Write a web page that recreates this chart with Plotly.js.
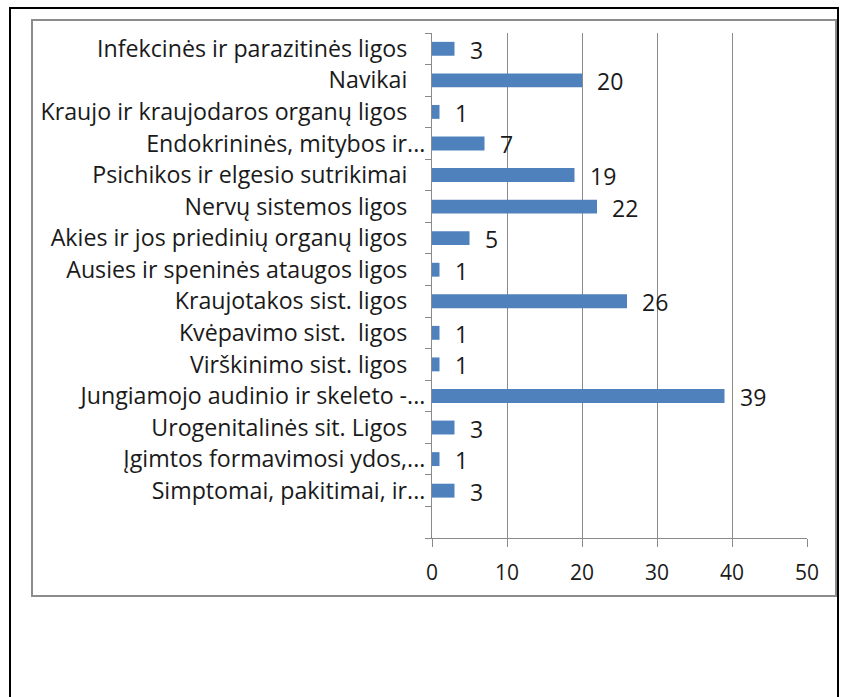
<!DOCTYPE html>
<html>
<head>
<meta charset="utf-8">
<script src="https://cdn.plot.ly/plotly-3.0.1.min.js"></script>
<style>html,body{margin:0;padding:0;background:#fff;}#chart{width:844px;height:697px;}</style>
</head>
<body>
<div id="chart"></div>
<script>
const categories = [
  "Infekcinės ir parazitinės ligos",
  "Navikai",
  "Kraujo ir kraujodaros organų ligos",
  "Endokrininės, mitybos ir...",
  "Psichikos ir elgesio sutrikimai",
  "Nervų sistemos ligos",
  "Akies ir jos priedinių organų ligos",
  "Ausies ir speninės ataugos ligos",
  "Kraujotakos sist. ligos",
  "Kvėpavimo sist.  ligos",
  "Virškinimo sist. ligos",
  "Jungiamojo audinio ir skeleto -...",
  "Urogenitalinės sit. Ligos",
  "Įgimtos formavimosi ydos,...",
  "Simptomai, pakitimai, ir..."
];
const values = [3, 20, 1, 7, 19, 22, 5, 1, 26, 1, 1, 39, 3, 1, 3];
const xTicks = [0, 10, 20, 30, 40, 50];

const positions = categories.map((c, i) => i);
const labelFont = "'Open Sans', 'Noto Sans', sans-serif";
// truncated labels let their ellipsis run past the common right edge
const tickText = categories.map(c => c.endsWith('...') ? c : c + '\u00a0\u00a0\u00a0');

const trace = {
  type: 'bar',
  orientation: 'h',
  x: values,
  y: positions,
  marker: {color: '#4f81bd'},
  width: 0.44,
  hoverinfo: 'x+text',
  text: categories,
  textposition: 'none'
};

const annotations = values.map((v, i) => ({
  x: v, y: i, xref: 'x', yref: 'y',
  text: String(v), showarrow: false,
  xanchor: 'left', xshift: 13, yshift: -1,
  font: {family: labelFont, size: 23, color: '#1a1a1a'}
}));

// pixel helpers for frame lines (plot area: x 432..807, y 33..538)
const L = 432, R = 807, T = 33, B = 538;
const px = p => (p - L) / (R - L);
const py = p => (B - p) / (B - T);

const shapes = [
  {type: 'rect', xref: 'paper', yref: 'paper', x0: px(32), x1: px(836), y0: py(596), y1: py(20),
   line: {color: '#8c8c8c', width: 2}, fillcolor: 'rgba(0,0,0,0)', layer: 'below'},
  {type: 'path', xref: 'paper', yref: 'paper',
   path: `M ${px(10)} ${py(700)} L ${px(10)} ${py(8)} L ${px(838)} ${py(8)} L ${px(838)} ${py(700)}`,
   line: {color: '#000', width: 2}}
];

const layout = {
  width: 844, height: 697,
  margin: {l: L, r: 844 - R, t: T, b: 697 - B},
  paper_bgcolor: '#fff', plot_bgcolor: '#fff',
  showlegend: false,
  xaxis: {
    range: [0, 50], tickvals: xTicks, ticktext: xTicks.map(String),
    showgrid: true, gridcolor: '#8a8a8a', gridwidth: 1,
    zeroline: false, showline: true, linecolor: '#8a8a8a', linewidth: 1,
    ticks: 'outside', ticklen: 8, tickcolor: '#8a8a8a',
    ticklabelstandoff: 8,
    tickfont: {family: labelFont, size: 21, color: '#1a1a1a'},
    fixedrange: true
  },
  yaxis: {
    range: [15.5, -0.5], tickvals: positions, ticktext: tickText,
    showgrid: false, zeroline: false, showline: true, linecolor: '#8a8a8a', linewidth: 1,
    ticks: '', ticklabelstandoff: 1,
    minor: {tick0: 0.5, dtick: 1, ticks: 'outside', ticklen: 6, tickcolor: '#8a8a8a', showgrid: false},
    tickfont: {family: labelFont, size: 23.2, color: '#1a1a1a'},
    fixedrange: true
  },
  annotations: annotations,
  shapes: shapes
};

Plotly.newPlot('chart', [trace], layout, {displayModeBar: false, staticPlot: true});
</script>
</body>
</html>
